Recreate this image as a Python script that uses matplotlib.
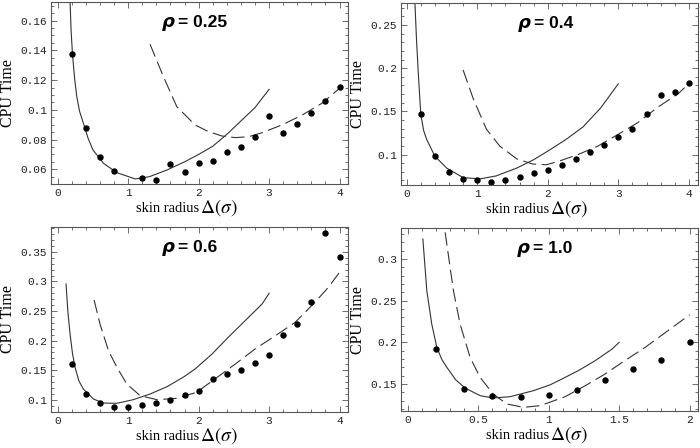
import matplotlib
matplotlib.use('Agg')
import matplotlib.pyplot as plt
from matplotlib.ticker import MultipleLocator, FuncFormatter

plt.rcParams['mathtext.fontset'] = 'stix'

# ---- rho = 0.25 ----
x_pts_025 = [0.2, 0.4, 0.6, 0.8, 1.2, 1.4, 1.6, 1.8, 2.0, 2.2, 2.4, 2.6, 2.8, 3.0, 3.2, 3.4, 3.6, 3.8, 4.0]
y_pts_025 = [0.1376, 0.0878, 0.0681, 0.0587, 0.0539, 0.0526, 0.0638, 0.0582, 0.0640, 0.0658, 0.0718,
             0.0750, 0.0817, 0.0959, 0.0842, 0.0907, 0.0981, 0.1060, 0.1152]
x_sol_025 = [0.175, 0.19, 0.21, 0.24, 0.27, 0.31, 0.364, 0.43, 0.5, 0.65, 0.84, 1.1, 1.3, 1.55, 1.8, 2.0,
             2.2, 2.4, 2.6, 2.8, 3.0]
y_sol_025 = [0.173, 0.153, 0.137, 0.121, 0.109, 0.099, 0.091, 0.081, 0.073, 0.064, 0.0577, 0.0535, 0.055,
             0.0595, 0.065, 0.070, 0.0755, 0.0835, 0.0925, 0.1015, 0.1138]
x_das_025 = [1.31, 1.50, 1.69, 1.95, 2.14, 2.33, 2.52, 2.71, 2.90, 3.18, 3.47, 3.75, 4.0]
y_das_025 = [0.1441, 0.1223, 0.1021, 0.0898, 0.0853, 0.0824, 0.0813, 0.0819, 0.0846, 0.0898, 0.0965,
             0.1044, 0.1145]

# ---- rho = 0.4 ----
x_pts_04 = [0.2, 0.4, 0.6, 0.8, 1.0, 1.2, 1.4, 1.6, 1.8, 2.0, 2.2, 2.4, 2.6, 2.8, 3.0, 3.2, 3.4, 3.6, 3.8, 4.0]
y_pts_04 = [0.1467, 0.098, 0.080, 0.0718, 0.0706, 0.0687, 0.0706, 0.0745, 0.0785, 0.0824, 0.0879,
            0.0949, 0.1031, 0.1110, 0.1204, 0.1298, 0.1474, 0.1689, 0.1725, 0.1826]
x_sol_04 = [0.118, 0.14, 0.165, 0.2, 0.24, 0.283, 0.4, 0.567, 0.8, 1.04, 1.27, 1.56, 1.8, 2.0, 2.25, 2.5,
            2.75, 3.0]
y_sol_04 = [0.274, 0.232, 0.1938, 0.1467, 0.128, 0.1176, 0.098, 0.0843, 0.0733, 0.0718, 0.0753, 0.0843,
            0.094, 0.104, 0.117, 0.132, 0.154, 0.182]
x_das_04 = [0.80, 0.944, 1.13, 1.32, 1.56, 1.79, 1.98, 2.15, 2.43, 2.71, 3.0, 3.28, 3.56, 3.85, 4.0]
y_das_04 = [0.198, 0.1646, 0.1294, 0.1098, 0.095, 0.089, 0.0882, 0.0921, 0.100, 0.1098, 0.1235,
            0.1372, 0.1549, 0.1705, 0.1823]

# ---- rho = 0.6 ----
x_pts_06 = [0.2, 0.4, 0.6, 0.8, 1.0, 1.2, 1.4, 1.6, 1.8, 2.0, 2.2, 2.4, 2.6, 2.8, 3.0, 3.2, 3.4, 3.6, 3.8, 4.0]
y_pts_06 = [0.1599, 0.1096, 0.0944, 0.0882, 0.0882, 0.0905, 0.0944, 0.100, 0.1074, 0.1152, 0.1345,
            0.143, 0.1497, 0.1616, 0.1756, 0.209, 0.2276, 0.2653, 0.3826, 0.341]
x_sol_06 = [0.118, 0.145, 0.175, 0.21, 0.246, 0.3, 0.364, 0.506, 0.648, 0.838, 1.07, 1.31, 1.55, 1.78,
            1.95, 2.19, 2.42, 2.66, 2.90, 3.0]
y_sol_06 = [0.2958, 0.248, 0.2112, 0.178, 0.1548, 0.132, 0.118, 0.1012, 0.0944, 0.0939, 0.100, 0.1096,
            0.122, 0.1379, 0.152, 0.1773, 0.2056, 0.2337, 0.2619, 0.2800]
x_das_06 = [0.516, 0.60, 0.72, 0.84, 0.98, 1.17, 1.41, 1.69, 1.97, 2.23, 2.52, 2.80, 3.09, 3.37, 3.65,
            3.84, 4.0]
y_das_06 = [0.2687, 0.228, 0.183, 0.1548, 0.1266, 0.1068, 0.100, 0.1024, 0.1125, 0.135, 0.1604, 0.1858,
            0.2083, 0.231, 0.2648, 0.290, 0.3156]

# ---- rho = 1.0 ----
x_pts_10 = [0.2, 0.4, 0.6, 0.8, 1.0, 1.2, 1.4, 1.6, 1.8, 2.0]
y_pts_10 = [0.192, 0.1436, 0.1352, 0.134, 0.1372, 0.1432, 0.1548, 0.1676, 0.1792, 0.200]
x_sol_10 = [0.107, 0.135, 0.17, 0.206, 0.24, 0.277, 0.34, 0.407, 0.513, 0.608, 0.727, 0.892, 1.01, 1.094,
            1.21, 1.33, 1.45, 1.50]
y_sol_10 = [0.324, 0.262, 0.222, 0.194, 0.180, 0.170, 0.155, 0.1452, 0.136, 0.1332, 0.1348, 0.142, 0.149,
            0.156, 0.166, 0.178, 0.192, 0.200]
x_das_10 = [0.265, 0.324, 0.371, 0.442, 0.513, 0.606, 0.703, 0.821, 0.94, 1.117, 1.26, 1.40, 1.54, 1.685,
            1.83, 2.0]
y_das_10 = [0.332, 0.262, 0.222, 0.182, 0.158, 0.138, 0.126, 0.122, 0.124, 0.1348, 0.148, 0.162, 0.178,
            0.194, 0.212, 0.233]

titles = ['0.25', '0.4', '0.6', '1.0']

LINE = '#333333'
FRAME = '#555555'


def fmt_num(v, pos):
    s = ('%.3f' % v).rstrip('0')
    if s.endswith('.'):
        s = s[:-1]
    return s


def draw_panel(ax, xp, yp, xs, ys, xd, yd, xlim, ylim, xmaj, xmin, ymaj, ymin, rho, tx):
    ax.plot(xs, ys, color=LINE, lw=0.8)
    ax.plot(xd, yd, color=LINE, lw=0.8, dashes=(12, 5))
    ax.plot(xp, yp, 'o', color='black', ms=3.6, mec='black')
    ax.set_xlim(xlim)
    ax.set_ylim(ylim)
    ax.xaxis.set_major_locator(MultipleLocator(xmaj))
    ax.xaxis.set_minor_locator(MultipleLocator(xmin))
    ax.yaxis.set_major_locator(MultipleLocator(ymaj))
    ax.yaxis.set_minor_locator(MultipleLocator(ymin))
    ax.xaxis.set_major_formatter(FuncFormatter(fmt_num))
    ax.yaxis.set_major_formatter(FuncFormatter(fmt_num))
    ax.tick_params(which='both', direction='in', top=True, right=True, color=FRAME, width=0.6)
    ax.tick_params(which='major', length=4, labelsize=8, pad=3)
    ax.tick_params(which='minor', length=2)
    for lab in ax.get_xticklabels() + ax.get_yticklabels():
        lab.set_fontfamily('Liberation Mono')
        lab.set_color('#222222')
    for sp in ax.spines.values():
        sp.set_color(FRAME)
        sp.set_linewidth(0.8)
    ax.set_ylabel('CPU Time', family='Liberation Serif', fontsize=11.5, labelpad=3)
    ax.text(0.497, -0.155, 'skin radius', transform=ax.transAxes, ha='right', va='baseline',
            family='Liberation Serif', fontsize=10.5)
    ax.text(0.503, -0.155, r'$\Delta(\sigma)$', transform=ax.transAxes, ha='left', va='baseline',
            fontsize=14)
    ax.text(tx, 0.865, 'ρ', transform=ax.transAxes, ha='right', va='baseline',
            family='DejaVu Sans', fontsize=13, fontweight='bold', style='italic')
    ax.text(tx + 0.012, 0.865, '= ' + rho, transform=ax.transAxes, ha='left', va='baseline',
            family='Liberation Sans', fontsize=12.5, fontweight='bold')


fig = plt.figure(figsize=(7, 4.48), dpi=100)
ax1 = fig.add_axes([0.0729, 0.5893, 0.4243, 0.4062])
ax2 = fig.add_axes([0.5729, 0.587, 0.4243, 0.4062])
ax3 = fig.add_axes([0.0729, 0.081, 0.4243, 0.4134])
ax4 = fig.add_axes([0.5729, 0.0826, 0.4243, 0.408])

draw_panel(ax1, x_pts_025, y_pts_025, x_sol_025, y_sol_025, x_das_025, y_das_025,
           (-0.095, 4.12), (0.0501, 0.1725), 1, 0.2, 0.02, 0.005, titles[0], 0.415)
draw_panel(ax2, x_pts_04, y_pts_04, x_sol_04, y_sol_04, x_das_04, y_das_04,
           (-0.08, 4.13), (0.0647, 0.2755), 1, 0.2, 0.05, 0.01, titles[1], 0.435)
draw_panel(ax3, x_pts_06, y_pts_06, x_sol_06, y_sol_06, x_das_06, y_das_06,
           (-0.095, 4.12), (0.0797, 0.393), 1, 0.2, 0.05, 0.01, titles[2], 0.415)
draw_panel(ax4, x_pts_10, y_pts_10, x_sol_10, y_sol_10, x_das_10, y_das_10,
           (-0.048, 2.06), (0.1176, 0.337), 0.5, 0.1, 0.05, 0.01, titles[3], 0.432)

fig.savefig('out.png', dpi=100)
